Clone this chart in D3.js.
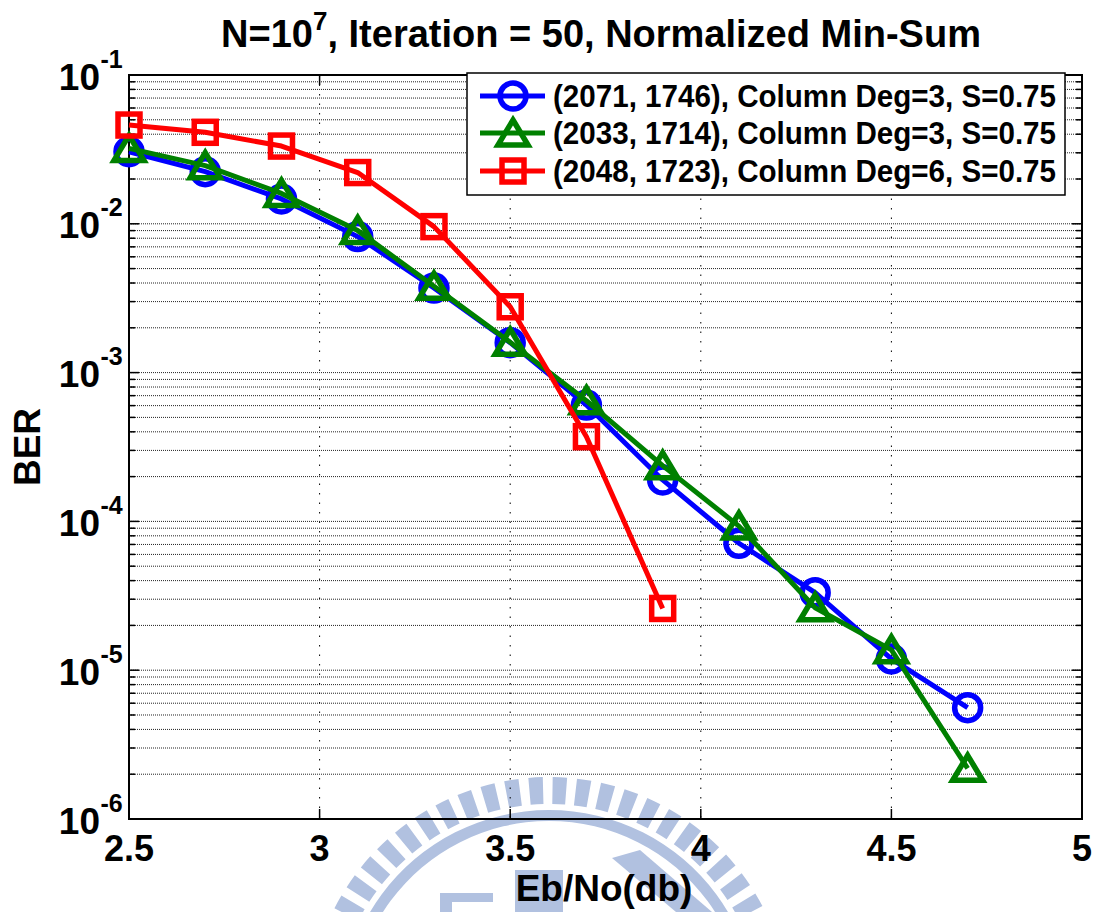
<!DOCTYPE html>
<html>
<head>
<meta charset="utf-8">
<script src="https://cdn.jsdelivr.net/npm/d3@7"></script>
<style>
  body { margin: 0; background: #fff; }
  svg { display: block; font-family: "Liberation Sans", Arial, sans-serif; font-weight: bold; }
</style>
</head>
<body>
<div id="chart"></div>
<script>
// Eb/No points (db)
var ebno = [2.5, 2.7, 2.9, 3.1, 3.3, 3.5, 3.7, 3.9, 4.1, 4.3, 4.5, 4.7];
var ebnoDeg6 = [2.5, 2.7, 2.9, 3.1, 3.3, 3.5, 3.7, 3.9];

// BER
var ber2071 = [0.0305, 0.0224, 0.0147, 0.0082, 0.0037, 0.00159, 0.000605, 0.00019, 0.0000713, 0.0000332, 0.0000119, 0.0000056];
var ber2033 = [0.0321, 0.0246, 0.0160, 0.0090, 0.0038, 0.0016, 0.000647, 0.000237, 0.000093, 0.0000263, 0.0000137, 0.00000219];
var ber2048 = [0.0461, 0.0412, 0.0333, 0.0221, 0.00957, 0.00277, 0.000371, 0.000026];

var legendLabels = ["(2071, 1746), Column Deg=3, S=0.75",
                    "(2033, 1714), Column Deg=3, S=0.75",
                    "(2048, 1723), Column Deg=6, S=0.75"];
var xTickVals = [2.5, 3, 3.5, 4, 4.5, 5];
var xTickText = ["2.5", "3", "3.5", "4", "4.5", "5"];
var yExps = [-1, -2, -3, -4, -5, -6];

var W = 1098, H = 912;
var svg = d3.select("#chart").append("svg")
    .attr("width", W)
    .attr("height", H);

var x = d3.scaleLinear().domain([2.5, 5]).range([129, 1082]);
var y = d3.scaleLog().domain([1e-6, 1e-1]).range([819, 75]);

// faint watermark logo behind everything
var wm = svg.append("g").attr("fill", "#b1c1e0").attr("transform", "translate(549,1018)");
for (var a = -96; a <= 96; a += 5.8) {
    var r0 = a * Math.PI / 180;
    wm.append("path").attr("d", d3.arc()({innerRadius: 214, outerRadius: 241,
        startAngle: r0 - 0.03, endAngle: r0 + 0.03}));
}
wm.append("path").attr("d", d3.arc()({innerRadius: 197, outerRadius: 208, startAngle: -Math.PI / 2 - 0.3, endAngle: Math.PI / 2 + 0.3}));
wm.append("rect").attr("x", 515 - 549).attr("y", 870 - 1018).attr("width", 48).attr("height", 60);
wm.append("rect").attr("x", 440 - 549).attr("y", 893 - 1018).attr("width", 53).attr("height", 9);
wm.append("rect").attr("x", 440 - 549).attr("y", 893 - 1018).attr("width", 12).attr("height", 40);
wm.append("polygon").attr("points", [[612 - 549, 858 - 1018], [640 - 549, 850 - 1018], [712 - 549, 912 - 1018], [676 - 549, 912 - 1018]].join(" "));

// grid
var grid = svg.append("g");
var minorVals = [];
yExps.forEach(function(e) {
    for (var k = 1; k <= 9; k++) {
        var v = k * Math.pow(10, e - 1);
        if (v >= 1e-6 && v <= 1e-1) minorVals.push(v);
    }
});
minorVals.push(1e-1);
grid.selectAll("line.h").data(minorVals).enter().append("line")
    .attr("x1", x(2.5)).attr("x2", x(5))
    .attr("y1", function(d) { return y(d); })
    .attr("y2", function(d) { return y(d); })
    .attr("stroke", "#222").attr("stroke-width", 1)
    .attr("stroke-dasharray", "1,1");
grid.selectAll("line.v").data(xTickVals.slice(1, -1)).enter().append("line")
    .attr("x1", function(d) { return x(d); })
    .attr("x2", function(d) { return x(d); })
    .attr("y1", y(1e-1)).attr("y2", y(1e-6))
    .attr("stroke", "#000").attr("stroke-width", 1)
    .attr("stroke-dasharray", "1.5,8");

// ticks (inward, both sides)
var tk = svg.append("g").attr("stroke", "#000").attr("stroke-width", 1.5);
xTickVals.forEach(function(v) {
    tk.append("line").attr("x1", x(v)).attr("x2", x(v)).attr("y1", 819).attr("y2", 809);
    tk.append("line").attr("x1", x(v)).attr("x2", x(v)).attr("y1", 75).attr("y2", 85);
});
minorVals.forEach(function(v) {
    var major = Math.abs(Math.log10(v) - Math.round(Math.log10(v))) < 1e-9;
    var len = major ? 10 : 6;
    tk.append("line").attr("x1", 129).attr("x2", 129 + len).attr("y1", y(v)).attr("y2", y(v));
    tk.append("line").attr("x1", 1082).attr("x2", 1082 - len).attr("y1", y(v)).attr("y2", y(v));
});

// axes box
svg.append("rect")
    .attr("x", x(2.5)).attr("y", y(1e-1))
    .attr("width", x(5) - x(2.5)).attr("height", y(1e-6) - y(1e-1))
    .attr("fill", "none").attr("stroke", "#000").attr("stroke-width", 2);

// tick labels
svg.selectAll("text.xt").data(xTickVals).enter().append("text")
    .attr("x", function(d) { return x(d); })
    .attr("y", 861)
    .attr("text-anchor", "middle")
    .attr("font-size", 36)
    .text(function(d, i) { return xTickText[i]; });

yExps.forEach(function(e) {
    var yy = y(Math.pow(10, e));
    svg.append("text").attr("x", 100).attr("y", yy + 14.5)
        .attr("text-anchor", "end").attr("font-size", 37).text("10");
    svg.append("text").attr("x", 100.5).attr("y", yy - 7.5)
        .attr("font-size", 25).text(e);
});

// axis titles
svg.append("text").attr("x", 604).attr("y", 901)
    .attr("text-anchor", "middle").attr("font-size", 37).text("Eb/No(db)");
svg.append("text")
    .attr("transform", "translate(40,447) rotate(-90)")
    .attr("text-anchor", "middle").attr("font-size", 37).text("BER");

var title = svg.append("text").attr("x", 601).attr("y", 47)
    .attr("text-anchor", "middle").attr("font-size", 38);
title.append("tspan").text("N=10");
title.append("tspan").attr("dy", -17).attr("font-size", 26).text("7");
title.append("tspan").attr("dy", 17).text(", Iteration = 50, Normalized Min-Sum");

// markers
function drawMarker(g, kind, cx, cy, color) {
    if (kind === "circle") {
        g.append("circle").attr("cx", cx).attr("cy", cy).attr("r", 13)
            .attr("fill", "none").attr("stroke", color).attr("stroke-width", 5.5);
    } else if (kind === "triangle") {
        g.append("path")
            .attr("d", "M" + cx + "," + (cy - 13) + "L" + (cx + 15) + "," + (cy + 12) + "L" + (cx - 15) + "," + (cy + 12) + "Z")
            .attr("fill", "none").attr("stroke", color).attr("stroke-width", 5.5);
    } else {
        g.append("rect").attr("x", cx - 11).attr("y", cy - 11).attr("width", 22).attr("height", 22)
            .attr("fill", "none").attr("stroke", color).attr("stroke-width", 5.5);
    }
}

var series = [
    {xs: ebno, ys: ber2071, color: "#0000ff", marker: "circle"},
    {xs: ebno, ys: ber2033, color: "#008000", marker: "triangle"},
    {xs: ebnoDeg6, ys: ber2048, color: "#ff0000", marker: "square"}
];

var line = d3.line()
    .x(function(d) { return x(d[0]); })
    .y(function(d) { return y(d[1]); });

series.forEach(function(s) {
    var pts = d3.zip(s.xs, s.ys);
    var g = svg.append("g");
    g.append("path").attr("d", line(pts))
        .attr("fill", "none").attr("stroke", s.color).attr("stroke-width", 5)
        .attr("stroke-linejoin", "round");
    pts.forEach(function(p) { drawMarker(g, s.marker, x(p[0]), y(p[1]), s.color); });
});

// legend
var lg = svg.append("g");
lg.append("rect").attr("x", 467).attr("y", 73).attr("width", 598).attr("height", 122)
    .attr("fill", "#fff").attr("stroke", "#000").attr("stroke-width", 1.5);
var rowY = [96, 133, 171];
series.forEach(function(s, i) {
    lg.append("line").attr("x1", 480).attr("x2", 545).attr("y1", rowY[i]).attr("y2", rowY[i])
        .attr("stroke", s.color).attr("stroke-width", 5);
    drawMarker(lg, s.marker, 513, rowY[i], s.color);
    lg.append("text").attr("x", 553).attr("y", rowY[i] + 11)
        .attr("font-size", 31).attr("textLength", 503).attr("lengthAdjust", "spacingAndGlyphs")
        .text(legendLabels[i]);
});
</script>
</body>
</html>
